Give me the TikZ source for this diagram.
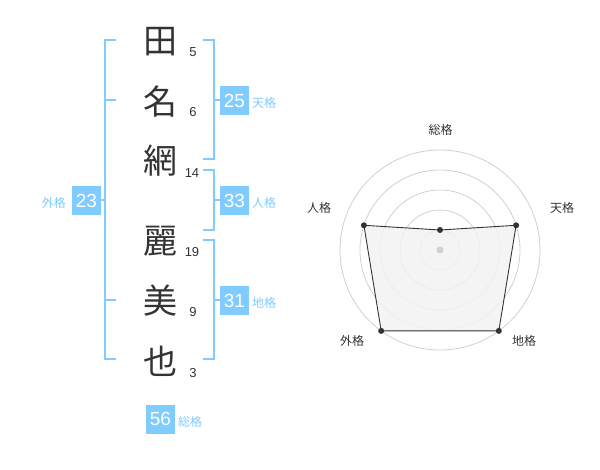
\documentclass[tikz,border=0pt]{standalone}
\usepackage{fontspec}
\setmainfont{Liberation Sans}
\newfontfamily\cjk{Noto Sans CJK JP}
\definecolor{kblue}{RGB}{128,204,255}
\definecolor{ktext}{RGB}{51,51,51}
\definecolor{kgrid}{RGB}{208,208,208}
\definecolor{kfill}{RGB}{242,242,242}
\begin{document}
\begin{tikzpicture}[x=1pt,y=-1pt,
  kanji/.style={font=\cjk\fontsize{34}{34}\selectfont, text=ktext, inner sep=0pt},
  strokes/.style={font=\fontsize{13}{13}\selectfont, text=ktext, inner sep=0pt},
  numbox/.style={fill=kblue, text=white, minimum width=29pt, minimum height=29pt, inner sep=0pt, font=\fontsize{19}{19}\selectfont},
  kaku/.style={font=\cjk\fontsize{12}{12}\selectfont, text=kblue, inner sep=0pt},
  brk/.style={draw=kblue, line width=2pt},
  axislbl/.style={font=\cjk\fontsize{12}{12}\selectfont, text=ktext, inner sep=0pt},
  grid/.style={draw=kgrid, line width=0.8pt},
  dot/.style={circle, fill=ktext, minimum size=6pt, inner sep=0pt}]
\useasboundingbox (0,0) rectangle (600,470);
% name characters
\node[kanji] (k1) at (160,42) {田};
\node[kanji] (k2) at (160,102) {名};
\node[kanji] (k3) at (160,161) {網};
\node[kanji] (k4) at (160,241) {麗};
\node[kanji] (k5) at (160,301) {美};
\node[kanji] (k6) at (160,361) {也};
% stroke counts
\node[strokes] (s1) at (193,52) {5};
\node[strokes] (s2) at (193,112) {6};
\node[strokes] (s3) at (192,173) {14};
\node[strokes] (s4) at (192,252) {19};
\node[strokes] (s5) at (193,312) {9};
\node[strokes] (s6) at (193,373) {3};
% brackets
\draw[brk] (116,40) -- (105,40) -- (105,359) -- (116,359);
\draw[brk] (105,100) -- (116,100);
\draw[brk] (105,300) -- (116,300);
\draw[brk] (203,40) -- (214,40) -- (214,159) -- (203,159);
\draw[brk] (214,100) -- (220,100);
\draw[brk] (203,170) -- (214,170) -- (214,230) -- (203,230);
\draw[brk] (214,200) -- (220,200);
\draw[brk] (203,240) -- (214,240) -- (214,359) -- (203,359);
\draw[brk] (214,300) -- (220,300);
\draw[brk] (101,200) -- (105,200);
% score boxes
\node[numbox] (ten) at (234.5,100.5) {25};
\node[kaku, anchor=west] (tenl) at (252,103) {天格};
\node[numbox] (jin) at (234.5,200.5) {33};
\node[kaku, anchor=west] (jinl) at (252,203) {人格};
\node[numbox] (chi) at (234.5,300.5) {31};
\node[kaku, anchor=west] (chil) at (252,303) {地格};
\node[numbox] (gai) at (86.5,200.5) {23};
\node[kaku, anchor=east] (gail) at (66,203) {外格};
\node[numbox] (sou) at (160.5,419) {56};
\node[kaku, anchor=west] (soul) at (178,422) {総格};
% radar chart
\coordinate (c) at (440,250);
\foreach \r in {20,40,60,80,100} \draw[grid] (c) circle (\r);
\coordinate (pS) at (440,230);
\coordinate (pT) at (516.1,225.3);
\coordinate (pC) at (498.8,330.9);
\coordinate (pG) at (381.2,330.9);
\coordinate (pJ) at (363.9,225.3);
\filldraw[fill=kfill, fill opacity=0.85, draw=ktext, line width=0.9pt] (pS) -- (pT) -- (pC) -- (pG) -- (pJ) -- cycle;
\node[circle, fill=kgrid, minimum size=7pt, inner sep=0pt] (cd) at (c) {};
\foreach \p in {pS,pT,pC,pG,pJ} \node[dot] at (\p) {};
\node[axislbl] (aS) at (440.5,130) {総格};
\node[axislbl] (aT) at (562,208) {天格};
\node[axislbl] (aJ) at (319,208) {人格};
\node[axislbl] (aG) at (352,341) {外格};
\node[axislbl] (aC) at (524,341) {地格};
\end{tikzpicture}
\end{document}
